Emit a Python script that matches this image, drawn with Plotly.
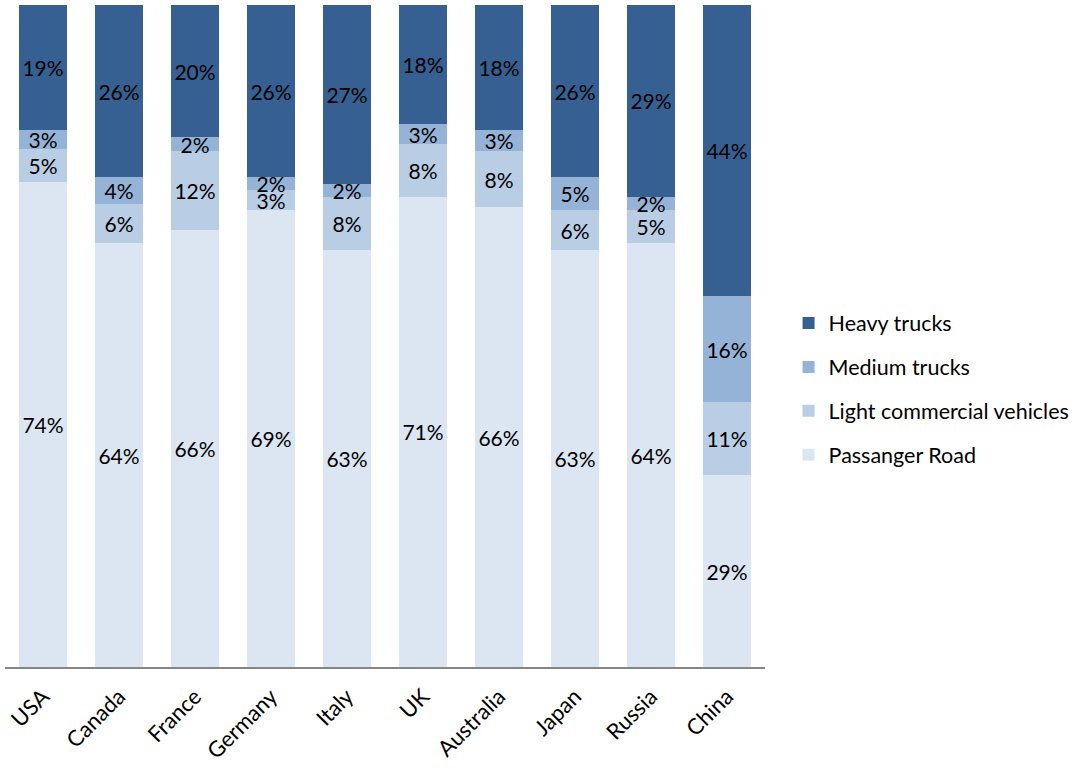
import plotly.graph_objects as go

countries = ["USA", "Canada", "France", "Germany", "Italy", "UK", "Australia", "Japan", "Russia", "China"]
passenger = [74, 64, 66, 69, 63, 71, 66, 63, 64, 29]
light_cv = [5, 6, 12, 3, 8, 8, 8, 6, 5, 11]
medium = [3, 4, 2, 2, 2, 3, 3, 5, 2, 16]
heavy = [19, 26, 20, 26, 27, 18, 18, 26, 29, 44]

series = [
    ("Passanger Road", passenger, "#DCE6F2", 4),
    ("Light commercial vehicles", light_cv, "#B9CDE5", 3),
    ("Medium trucks", medium, "#95B3D7", 2),
    ("Heavy trucks", heavy, "#366092", 1),
]

FONT = "Lato, 'Open Sans', sans-serif"
FS = 21

fig = go.Figure()
for i, (name, vals, col, rank) in enumerate(series):
    fig.add_trace(go.Bar(
        x=countries, y=vals, name=name,
        marker=dict(color=col, line=dict(width=0)),
        text=[f"{v}%" for v in vals],
        textposition="inside", insidetextanchor="middle", textangle=0,
        textfont=dict(color="black", size=FS, family=FONT),
        constraintext="none",
        legendgroup=f"g{i}", legendrank=rank,
    ))

fig.update_layout(
    barmode="stack", barnorm="percent", bargap=0.36,
    width=1075, height=769,
    margin=dict(l=5, r=310, t=5, b=102, autoexpand=False),
    plot_bgcolor="white", paper_bgcolor="white",
    font=dict(family=FONT, size=FS, color="black"),
    uniformtext=dict(minsize=FS, mode="show"),
    showlegend=True,
    legend=dict(
        x=1.031, xanchor="left", y=0.42, yanchor="middle",
        traceorder="grouped", tracegroupgap=13,
        font=dict(size=21.5, family=FONT, color="black"),
        bgcolor="rgba(0,0,0,0)",
    ),
    xaxis=dict(
        showline=True, linecolor="#868686", linewidth=2,
        tickangle=-45, ticks="", showgrid=False, automargin=False,
        ticklabelstandoff=6,
        tickfont=dict(size=22, family=FONT, color="black"),
    ),
    yaxis=dict(visible=False, range=[0, 100], showgrid=False),
)

fig.write_html("out.html")
